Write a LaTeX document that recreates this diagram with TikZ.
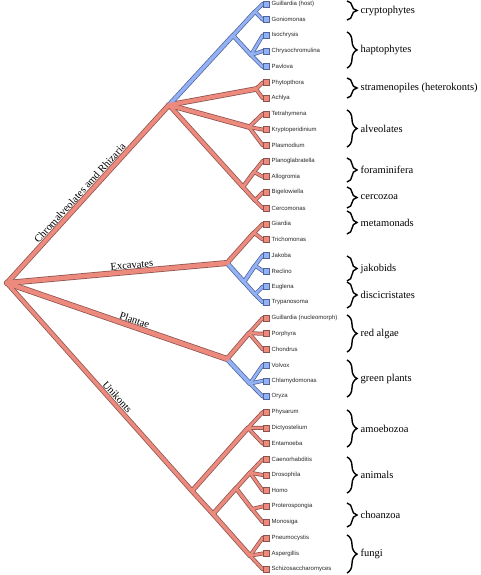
\documentclass[tikz,border=0pt]{standalone}
\usepackage{fontspec}
\setmainfont{Liberation Serif}
\newfontfamily\leaffont{Liberation Sans}
\usetikzlibrary{decorations.pathreplacing}
\definecolor{salf}{HTML}{EC8A7E}
\definecolor{salo}{HTML}{8C524C}
\definecolor{bluf}{HTML}{93B2F5}
\definecolor{bluo}{HTML}{50649C}
\pgfdeclarelayer{background}
\pgfsetlayers{background,main}
\begin{document}
\begin{tikzpicture}[x=1pt,y=-1pt,
  sqsal/.style={rectangle,draw=salo,fill=salf,line width=0.6pt,minimum size=6pt,inner sep=0pt},
  sqblu/.style={rectangle,draw=bluo,fill=bluf,line width=0.6pt,minimum size=6pt,inner sep=0pt},
  lbl/.style={anchor=west,inner sep=0pt,font=\leaffont\fontsize{6}{7}\selectfont,text=black!85},
  grp/.style={anchor=west,inner sep=0pt,font=\fontsize{10.5}{12}\selectfont},
  brlbl/.style={sloped,above,inner sep=2.8pt,font=\fontsize{10.5}{12}\selectfont},
  bracestyle/.style={decorate,decoration={brace,amplitude=10pt},line width=1.4pt}]
\useasboundingbox (0,0) rectangle (480,575);
% leaves
\foreach \i/\t/\c in {1/{Guillardia (host)}/blu,2/Goniomonas/blu,3/Isochrysis/blu,
  4/Chrysochromulina/blu,5/Pavlova/blu,6/Phytopthora/sal,7/Achlya/sal,8/Tetrahymena/sal,
  9/Kryptoperidinium/sal,10/Plasmodium/sal,11/Planoglabratella/sal,12/Allogromia/sal,
  13/Bigelowiella/sal,14/Cercomonas/sal,15/Giardia/sal,16/Trichomonas/sal,17/Jakoba/blu,
  18/Reclino/blu,19/Euglena/blu,20/Trypanosoma/blu,21/{Guillardia (nucleomorph)}/sal,
  22/Porphyra/sal,23/Chondrus/sal,24/Volvox/blu,25/Chlamydomonas/blu,26/Oryza/blu,
  27/Physarum/sal,28/Dictyostelium/sal,29/Entamoeba/sal,30/Caenorhabditis/sal,
  31/Drosophila/sal,32/Homo/sal,33/Proterospongia/sal,34/Monosiga/sal,35/Pneumocystis/sal,
  36/Aspergillis/sal,37/Schizosaccharomyces/sal}{
  \pgfmathsetmacro\yy{4+15.7*(\i-1)}
  \node[sq\c] (l\i) at (266,\yy) {};
  \node[lbl] (t\i) at (271.5,\yy) {\t};
}
% internal nodes
\coordinate (R) at (7,283);
\coordinate (CR) at (169,105);
\coordinate (B) at (233,35.5);
\coordinate (Cry) at (255,11.6);
\coordinate (IC) at (251,55);
\coordinate (S) at (256,89);
\coordinate (A) at (249,127);
\coordinate (Rz) at (243,187);
\coordinate (F) at (254,172);
\coordinate (C) at (255,200.4);
\coordinate (E) at (227,263);
\coordinate (M) at (254,232.8);
\coordinate (X) at (244,282);
\coordinate (J) at (255,265.6);
\coordinate (D) at (255,294.4);
\coordinate (P) at (227,359);
\coordinate (RA) at (249,333.2);
\coordinate (G) at (250,383.6);
\coordinate (U) at (192,491);
\coordinate (Am) at (248,428);
\coordinate (Op) at (213,514);
\coordinate (AC) at (236,488.3);
\coordinate (An) at (250,472.7);
\coordinate (Ch) at (252,509.1);
\coordinate (Fu) at (250,555.7);
\def\saledges{R/CR/5.5,R/E/6,R/P/6,R/U/5,CR/S/5.5,S/l6.west/4,S/l7.west/4,CR/A/5.5,
  A/l8.west/4,A/l9.west/4,A/l10.west/4,CR/Rz/5,Rz/F/4.5,F/l11.west/4,F/l12.west/4,
  Rz/C/4.5,C/l13.west/4,C/l14.west/4,E/M/5,M/l15.west/4,M/l16.west/4,P/RA/5,
  RA/l21.west/4,RA/l22.west/4,RA/l23.west/4,U/Am/5,Am/l27.west/4,Am/l28.west/4,
  Am/l29.west/4,U/Op/5,Op/AC/5,AC/An/4.5,An/l30.west/4,An/l31.west/4,An/l32.west/4,
  AC/Ch/4.5,Ch/l33.west/4,Ch/l34.west/4,Op/Fu/5,Fu/l35.west/4,Fu/l36.west/4,Fu/l37.west/4}
\def\bluedges{CR/B/5,B/Cry/4.5,Cry/l1.west/4,Cry/l2.west/4,B/IC/4.5,IC/l3.west/4,
  IC/l4.west/4,IC/l5.west/4,E/X/5,X/J/4.5,J/l17.west/4,J/l18.west/4,X/D/4.5,
  D/l19.west/4,D/l20.west/4,P/G/5,G/l24.west/4,G/l25.west/4,G/l26.west/4}
\begin{pgfonlayer}{background}
  \foreach \a/\b/\w in \saledges {\draw[salo,line width=\w pt,line cap=round] (\a) -- (\b);}
  \foreach \a/\b/\w in \bluedges {\draw[bluo,line width=\w pt,line cap=round] (\a) -- (\b);}
  \foreach \a/\b/\w in \bluedges {\pgfmathsetmacro\ww{\w-1.5}
    \draw[bluf,line width=\ww pt,line cap=round] (\a) -- (\b);}
  \foreach \a/\b/\w in \saledges {\pgfmathsetmacro\ww{\w-1.5}
    \draw[salf,line width=\ww pt,line cap=round] (\a) -- (\b);}
\end{pgfonlayer}
% branch labels
\path (R) -- (CR) node[brlbl,pos=0.48] (lchr) {Chromalveolates amd Rhizaria};
\path (R) -- (E) node[brlbl,pos=0.57] (lexc) {Excavates};
\path (R) -- (P) node[brlbl,pos=0.57] (lpla) {Plantae};
\path (R) -- (U) node[brlbl,pos=0.57] (luni) {Unikonts};
% braces and group labels
\foreach \ya/\yb/\n/\txt in {1/20/a/cryptophytes,32/68/b/haptophytes,
  78/98/c/{stramenopiles (heterokonts)},110/147/d/alveolates,158/182/e/foraminifera,
  187/208/f/cercozoa,211/234/g/metamonads,256/281/h/jakobids,282/308/i/discicristates,
  315/352/j/{red algae},360/397/k/{green plants},410/447/l/amoebozoa,457/493/m/animals,
  503/527/n/choanzoa,535/573/o/fungi}{
  \draw[bracestyle] (347,\ya) coordinate (ba\n) -- (347,\yb) coordinate (bb\n);
  \node[grp] (g\n) at (360.5,{(\ya+\yb)/2}) {\txt};
}
\end{tikzpicture}
\end{document}
